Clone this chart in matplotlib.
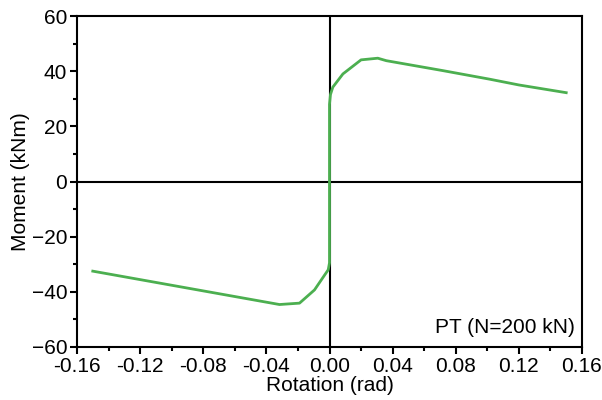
import matplotlib.pyplot as plt
from matplotlib.ticker import MultipleLocator

plt.rcParams['font.family'] = ['Liberation Sans', 'DejaVu Sans']

# 正の回転側
rot_pos = [0.0, 0.0, 0.0006, 0.0021, 0.0085, 0.020, 0.0306, 0.036, 0.0718, 0.1014, 0.120, 0.150]
mom_pos = [0.0, 28.0, 31.5, 34.2, 39.0, 44.1, 44.7, 43.8, 40.2, 37.1, 35.0, 32.2]
# 負の回転側
rot_neg = [-0.150, -0.0317, -0.019, -0.0095, -0.0032, -0.0008, 0.0, 0.0]
mom_neg = [-32.5, -44.6, -44.1, -39.3, -34.0, -32.0, -29.5, 0.0]

rot = rot_neg + rot_pos[1:]
mom = mom_neg + mom_pos[1:]

fig = plt.figure(figsize=(6.02, 4.0), dpi=100)
ax = fig.add_axes([77/602, 53/400, 505/602, 331/400])

ax.axhline(0, color='black', lw=1.5, zorder=1)
ax.axvline(0, color='black', lw=1.5, zorder=1)
ax.plot(rot, mom, color='#4caf50', lw=2.0, zorder=3)

ax.set_xlim(-0.16, 0.16)
ax.set_ylim(-60, 60)
ax.xaxis.set_major_locator(MultipleLocator(0.04))
ax.xaxis.set_minor_locator(MultipleLocator(0.02))
ax.yaxis.set_major_locator(MultipleLocator(20))
ax.yaxis.set_minor_locator(MultipleLocator(10))
ax.xaxis.set_major_formatter(plt.FuncFormatter(lambda v, p: f'{v:.2f}'))
ax.tick_params(which='major', direction='out', length=5, width=1.5, labelsize=15, pad=2)
ax.tick_params(which='minor', direction='out', length=3, width=1.5)
ax.tick_params(top=False, right=False, which='both')
for s in ax.spines.values():
    s.set_linewidth(1.5)

ax.set_xlabel('Rotation (rad)', fontsize=15, labelpad=0)
ax.set_ylabel('Moment (kNm)', fontsize=15, labelpad=1)
ax.text(0.985, 0.03, 'PT (N=200 kN)', transform=ax.transAxes, ha='right', va='bottom', fontsize=15)

fig.savefig('out.png', dpi=100)
